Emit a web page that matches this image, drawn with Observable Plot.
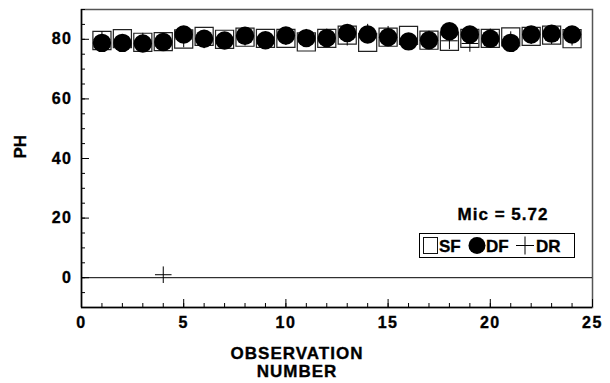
<!DOCTYPE html>
<html>
<head>
<meta charset="utf-8">
<script src="https://cdn.jsdelivr.net/npm/d3@7"></script>
<script src="https://cdn.jsdelivr.net/npm/@observablehq/plot@0.6"></script>
<style>
  body { margin: 0; background: #fff; font-family: "Liberation Sans", Arial, sans-serif; }
  #wrap { position: relative; width: 610px; height: 383px; }
  #overlay { position: absolute; left: 0; top: 0; pointer-events: none; }
  #wrap svg text { font-weight: bold; stroke: #000; stroke-width: 0.35px; }
</style>
</head>
<body>
<div id="wrap"><div id="chart"></div><svg id="overlay" width="610" height="383"></svg></div>
<script>
const obs = [1,2,3,4,5,6,7,8,9,10,11,12,13,14,15,16,17,18,19,20,21,22,23,24];
const sf = [79.6,80.2,79.0,79.2,80.1,81.0,80.0,80.7,80.3,80.3,79.1,80.3,81.4,79.0,80.7,81.3,79.7,79.3,80.3,80.3,80.8,81.0,81.4,80.2];
const df = [78.8,78.8,78.6,79.1,81.6,80.2,79.6,81.2,79.7,81.3,80.4,80.4,82.1,81.6,80.7,79.3,79.7,82.7,81.6,80.2,78.8,81.6,81.9,81.6];
const dr = [79.9,78.8,79.4,1.0,80.1,79.8,79.6,80.7,79.7,80.9,80.7,80.8,80.7,82.4,81.7,79.2,80.1,79.5,78.6,80.8,79.9,81.2,81.2,80.7];
const xMajor = [0,5,10,15,20,25];
const xMinor = d3.range(0, 26, 1);
const yMajor = [0,20,40,60,80];
const yMinor = d3.range(-10, 91, 5);
const micLabel = "Mic = 5.72";
const seriesNames = ["SF","DF","DR"];

const rows = (vals) => obs.map((o,i) => ({obs:o, v:vals[i]}));
const FONT = "Liberation Sans, Arial, sans-serif";

const chart = Plot.plot({
  width: 610, height: 383,
  marginLeft: 81, marginRight: 18, marginTop: 9, marginBottom: 76,
  style: {fontFamily: FONT, color: "#000", background: "#fff"},
  x: {domain: [0,25]},
  y: {domain: [-10,90]},
  marks: [
    Plot.frame({stroke: "#555", strokeWidth: 1.5}),
    Plot.ruleX([0], {stroke: "#000", strokeWidth: 1.5}),
    Plot.ruleY([-10], {stroke: "#000", strokeWidth: 1.5}),
    Plot.ruleY([0], {stroke: "#000", strokeWidth: 1}),
    Plot.axisY({ticks: yMinor, tickSize: -4, text: null, label: null, strokeWidth: 1}),
    Plot.axisY({ticks: yMajor, tickSize: -8, text: null, label: null, strokeWidth: 1}),
    Plot.axisY({ticks: yMajor, tickSize: 0, tickPadding: 9, label: null, fontSize: 16}),
    Plot.axisX({ticks: xMinor, tickSize: -4, text: null, label: null, strokeWidth: 1}),
    Plot.axisX({ticks: xMajor, tickSize: -8, text: null, label: null, strokeWidth: 1}),
    Plot.axisX({ticks: xMajor, tickSize: 0, tickPadding: 9, label: null, fontSize: 16}),
    Plot.text(["PH"], {frameAnchor: "left", dx: -61, rotate: -90, fontSize: 17, fontWeight: "bold", text: d => d}),
    Plot.text(["OBSERVATION\nNUMBER"], {frameAnchor: "bottom", dx: -40, dy: 39, lineAnchor: "top", lineHeight: 1.06, fontSize: 17, fontWeight: "bold", text: d => d}),
    Plot.dot(rows(sf), {x: "obs", y: "v", symbol: "square", r: 10.2, stroke: "#222", strokeWidth: 1.2, fill: "none"}),
    Plot.dot(rows(df), {x: "obs", y: "v", symbol: "circle", r: 9.2, fill: "#000", stroke: "none"}),
    Plot.dot(rows(dr), {x: "obs", y: "v", symbol: "plus", r: 5.4, stroke: "#000", strokeWidth: 1})
  ]
});
document.getElementById("chart").appendChild(chart);
chart.querySelectorAll("text").forEach(t => {
  t.setAttribute("font-weight", "bold");
  if (t.textContent.length > 2) t.setAttribute("letter-spacing", "1");
  else if (/^\d+$/.test(t.textContent)) t.setAttribute("letter-spacing", "1.5");
});

// legend overlay
const ov = d3.select("#overlay");
ov.append("text").attr("x", 503).attr("y", 220).attr("text-anchor", "middle")
  .attr("font-family", FONT).attr("font-weight", "bold").attr("font-size", 17)
  .attr("letter-spacing", 1).text(micLabel);
ov.append("rect").attr("x", 419.5).attr("y", 233.5).attr("width", 155).attr("height", 24)
  .attr("fill", "#fff").attr("stroke", "#000").attr("stroke-width", 1);
ov.append("rect").attr("x", 423.5).attr("y", 237.5).attr("width", 14).attr("height", 16)
  .attr("fill", "none").attr("stroke", "#111").attr("stroke-width", 1);
ov.append("circle").attr("cx", 477).attr("cy", 245.5).attr("r", 8.5).attr("fill", "#000");
ov.append("path").attr("d", "M516,245.5H534M525,236.5V254.5").attr("stroke", "#000").attr("stroke-width", 1);
const lx = [439, 486, 536];
seriesNames.forEach((n, i) => {
  ov.append("text").attr("x", lx[i]).attr("y", 251.5)
    .attr("font-family", FONT).attr("font-weight", "bold").attr("font-size", 17).text(n);
});
</script>
</body>
</html>
